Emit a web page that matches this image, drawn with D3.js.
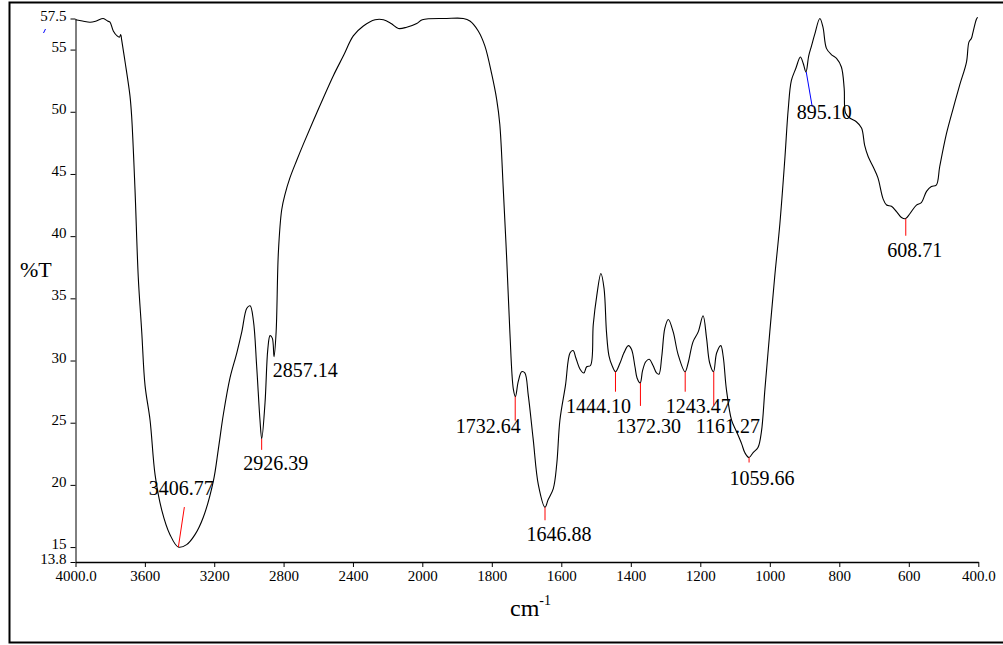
<!DOCTYPE html>
<html>
<head>
<meta charset="utf-8">
<script src="https://cdn.jsdelivr.net/npm/d3@7"></script>
<style>
  html, body { margin: 0; padding: 0; background: #ffffff; }
  svg { display: block; }
  text { font-family: "Liberation Serif", "Times New Roman", serif; fill: #000; }
</style>
</head>
<body>
<svg id="chart" width="1003" height="645"></svg>
<script>
// ---- data ----
const wavenumbers = [
  4000, 3960, 3916, 3880, 3840, 3815, 3801, 3782, 3760, 3747, 3739, 3734, 3714, 3686, 3676,
  3657, 3638, 3618, 3599, 3570, 3541, 3503, 3455, 3407, 3359, 3311, 3263, 3205, 3176, 3147,
  3109, 3070, 3041, 3012, 2993, 2974, 2955, 2936, 2926, 2907, 2891, 2878, 2865, 2855, 2843,
  2830, 2811, 2791, 2763, 2724, 2686, 2609, 2513, 2455, 2398, 2340, 2272, 2224, 2180, 2138,
  2090, 2032, 2000, 1930, 1882, 1863, 1839, 1820, 1800, 1786, 1777, 1767, 1757, 1748, 1738,
  1732, 1724, 1714, 1705, 1695, 1681, 1666, 1647, 1638, 1623, 1613, 1604, 1588, 1575, 1566,
  1558, 1546, 1535, 1527, 1516, 1508, 1498, 1486, 1477, 1470, 1463, 1454, 1444, 1431, 1420,
  1407, 1398, 1388, 1382, 1373, 1366, 1357, 1347, 1336, 1326, 1319, 1311, 1302, 1292, 1278,
  1264, 1244, 1235, 1221, 1206, 1192, 1182, 1173, 1162, 1153, 1141, 1134, 1125, 1110, 1096,
  1081, 1072, 1060, 1048, 1034, 1024, 1014, 1000, 986, 971, 957, 947, 938, 925, 912,
  904, 896, 888, 880, 871, 856, 847, 837, 823, 808, 794, 786, 782, 770, 751,
  736, 727, 717, 703, 689, 674, 664, 650, 636, 621, 610, 597, 578, 564, 549,
  535, 521, 511, 492, 473, 453, 434, 427, 420, 416, 406, 402
];
const transmittance = [
  57.4, 57.3, 57.2, 57.3, 57.5, 57.3, 57.2, 56.5, 56.1, 56.0, 56.2, 55.8, 54.0, 51.3, 49.6,
  43.8, 36.7, 32.3, 28.0, 25.2, 20.8, 18.0, 16.0, 15.0, 15.2, 16.0, 17.4, 20.3, 22.9, 25.7,
  28.6, 30.6, 32.3, 34.2, 34.4, 33.2, 29.5, 25.2, 23.7, 26.6, 30.9, 32.0, 31.8, 30.3, 32.3,
  38.7, 42.1, 43.4, 44.7, 46.1, 47.4, 49.9, 52.9, 54.5, 56.1, 56.9, 57.4, 57.4, 57.1, 56.7,
  56.8, 57.1, 57.4, 57.5, 57.5, 57.3, 56.5, 55.3, 53.0, 51.0, 49.0, 43.8, 38.1, 32.3, 27.7,
  27.1, 28.3, 29.1, 29.0, 27.2, 23.7, 20.0, 18.2, 18.8, 19.7, 21.7, 25.2, 28.0, 30.6, 30.8,
  30.2, 29.3, 29.0, 29.5, 29.6, 32.9, 35.2, 37.0, 35.8, 32.3, 30.4, 29.6, 29.1, 29.8, 30.6,
  31.2, 30.9, 29.5, 28.6, 28.2, 29.2, 29.9, 30.1, 29.6, 29.0, 28.9, 30.3, 32.6, 33.3, 32.3,
  30.5, 29.1, 29.8, 31.5, 32.3, 33.6, 31.8, 29.8, 29.1, 30.6, 31.2, 30.3, 27.7, 25.2, 24.3,
  23.3, 22.6, 22.2, 22.6, 23.0, 24.3, 27.7, 32.3, 36.7, 41.0, 46.1, 50.2, 52.5, 53.5, 54.4,
  53.9, 53.2, 54.5, 55.3, 56.2, 57.5, 56.8, 55.1, 54.6, 54.3, 53.6, 51.9, 49.9, 49.5, 49.2,
  48.7, 47.3, 46.4, 45.6, 44.7, 43.0, 42.5, 42.4, 42.0, 41.5, 41.4, 41.8, 42.5, 42.7, 43.6,
  44.0, 44.1, 45.6, 48.2, 50.2, 52.2, 54.0, 55.6, 55.9, 56.3, 57.4, 57.6
];
const peakWavenumbers = [3406.77, 2926.39, 2857.14, 1732.64, 1646.88, 1444.10, 1372.30, 1243.47, 1161.27, 1059.66, 895.10, 608.71];
const peakTransmittance = [15.0, 23.7, 30.3, 27.1, 18.2, 29.1, 28.2, 29.1, 29.1, 22.2, 53.2, 41.4];
const peakLabels = ["3406.77", "2926.39", "2857.14", "1732.64", "1646.88", "1444.10", "1372.30", "1243.47", "1161.27", "1059.66", "895.10", "608.71"];

const xTickValues = [4000, 3600, 3200, 2800, 2400, 2000, 1800, 1600, 1400, 1200, 1000, 800, 600, 400];
const xTickLabels = ["4000.0", "3600", "3200", "2800", "2400", "2000", "1800", "1600", "1400", "1200", "1000", "800", "600", "400.0"];
const yTickValues = [57.5, 55, 50, 45, 40, 35, 30, 25, 20, 15, 13.8];
const yTickLabels = ["57.5", "55", "50", "45", "40", "35", "30", "25", "20", "15", "13.8"];

// ---- layout (marker lines / label offsets relative to each peak, in px) ----
const peakLayout = [
  { lx: 6,  ly: -40, tx: 3,   ty: -52, anchor: "middle", color: "#ff0000" },
  { lx: 0,  ly: 11,  tx: 14,  ty: 31,  anchor: "middle", color: "#ff0000" },
  { lx: 0,  ly: 0,   tx: -1,  ty: 20,  anchor: "start",  color: "#ff0000" },
  { lx: 0,  ly: 24,  tx: -27, ty: 36,  anchor: "middle", color: "#ff0000" },
  { lx: 0,  ly: 13,  tx: 14,  ty: 34,  anchor: "middle", color: "#ff0000" },
  { lx: 0,  ly: 20,  tx: -17, ty: 41,  anchor: "middle", color: "#ff0000" },
  { lx: 0,  ly: 23,  tx: 8,   ty: 50,  anchor: "middle", color: "#ff0000" },
  { lx: 0,  ly: 20,  tx: 13,  ty: 41,  anchor: "middle", color: "#ff0000" },
  { lx: 0,  ly: 34,  tx: 14,  ty: 61,  anchor: "middle", color: "#ff0000" },
  { lx: 0,  ly: 5,   tx: 13,  ty: 27,  anchor: "middle", color: "#ff0000" },
  { lx: 6,  ly: 35,  tx: 18,  ty: 47,  anchor: "middle", color: "#0000ff" },
  { lx: 0,  ly: 17,  tx: 9,   ty: 38,  anchor: "middle", color: "#ff0000" }
];

const svg = d3.select("#chart");

// outer frame
svg.append("rect")
  .attr("x", 9.5).attr("y", 2.5).attr("width", 1000).attr("height", 640)
  .attr("fill", "none").attr("stroke", "#000").attr("stroke-width", 2);

const x = d3.scaleLinear().domain([4000, 2000, 400]).range([75.5, 422.3, 978.3]);
const y = d3.scaleLinear().domain([13.8, 57.5]).range([562, 18.5]);

// x axis
const xAxis = d3.axisBottom(x)
  .tickValues(xTickValues)
  .tickFormat((d, i) => xTickLabels[i])
  .tickSizeInner(5).tickSizeOuter(0).tickPadding(3);
const gx = svg.append("g").attr("transform", "translate(0,562)").call(xAxis);
gx.select(".domain").attr("stroke", "#000").attr("stroke-width", 1.5);
gx.selectAll(".tick line").attr("stroke", "#000");
gx.selectAll(".tick text").attr("font-family", "Liberation Serif").attr("font-size", 15).attr("fill", "#000");

// y axis
const yAxis = d3.axisLeft(y)
  .tickValues(yTickValues)
  .tickFormat((d, i) => yTickLabels[i])
  .tickSizeInner(5).tickSizeOuter(0).tickPadding(4);
const gy = svg.append("g").attr("transform", "translate(75.5,0)").call(yAxis);
gy.select(".domain").attr("stroke", "#000").attr("stroke-width", 1);
gy.selectAll(".tick line").attr("stroke", "#000");
gy.selectAll(".tick text").attr("font-family", "Liberation Serif").attr("font-size", 15).attr("fill", "#000").attr("dy", "0.1em");

// axis titles
svg.append("text").attr("x", 20).attr("y", 277).attr("font-size", 22).text("%T");
const xt = svg.append("text").attr("x", 510).attr("y", 616).attr("font-size", 24);
xt.append("tspan").text("cm");
xt.append("tspan").attr("font-size", 14).attr("dy", -11).text("-1");

// spectrum
const pts = wavenumbers.map((w, i) => [w, transmittance[i]]);
const line = d3.line().x(d => x(d[0])).y(d => y(d[1])).curve(d3.curveCatmullRom.alpha(0.5));
svg.append("path").datum(pts).attr("d", line)
  .attr("fill", "none").attr("stroke", "#000").attr("stroke-width", 1.1);

// small blue mark near the top-left
svg.append("line").attr("x1", 43.5).attr("y1", 33).attr("x2", 45.5).attr("y2", 29)
  .attr("stroke", "#0000ff").attr("stroke-width", 1);

// peak markers and labels
peakWavenumbers.forEach((w, i) => {
  const px = x(w), py = y(peakTransmittance[i]);
  const L = peakLayout[i];
  if (L.ly !== 0 || L.lx !== 0) {
    svg.append("line")
      .attr("x1", px).attr("y1", py)
      .attr("x2", px + L.lx).attr("y2", py + L.ly)
      .attr("stroke", L.color).attr("stroke-width", 1);
  }
  svg.append("text")
    .attr("x", px + L.tx).attr("y", py + L.ty)
    .attr("text-anchor", L.anchor)
    .attr("font-size", 20)
    .text(peakLabels[i]);
});
</script>
</body>
</html>
